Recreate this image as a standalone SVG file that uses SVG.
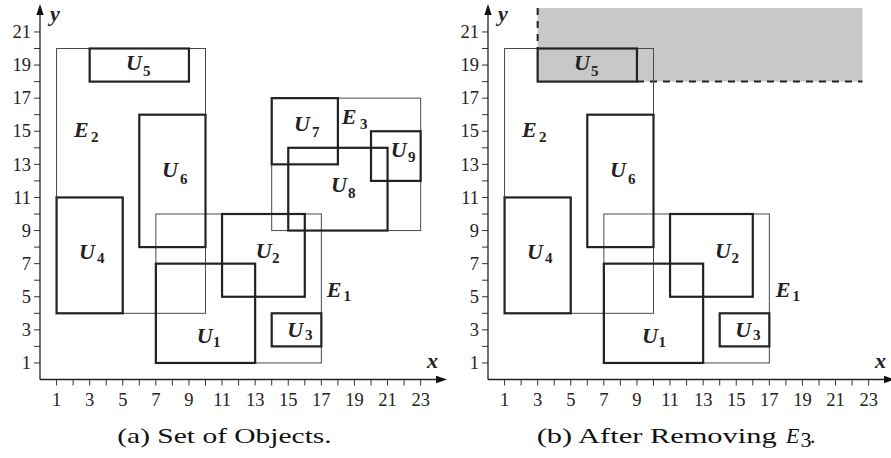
<svg xmlns="http://www.w3.org/2000/svg" width="891" height="458" viewBox="0 0 891 458">
<style>
.thin{fill:none;stroke:#4a4a4a;stroke-width:1}
.thick{fill:none;stroke:#222;stroke-width:2.2}
.axis{stroke:#222;stroke-width:1.3;fill:none}
.tick{stroke:#333;stroke-width:1}
.num{font-family:"Liberation Serif","Times New Roman","DejaVu Serif",serif;font-size:18.5px;fill:#222}
.ny{text-anchor:end}
.nx{text-anchor:middle}
.lab{font-family:"Liberation Serif","Times New Roman","DejaVu Serif",serif;font-size:22px;font-style:italic;font-weight:bold;fill:#222}
.sub{font-size:15px;font-style:normal;font-weight:bold}
.cap{font-family:"Liberation Serif","Times New Roman","DejaVu Serif",serif;font-size:22px;fill:#111}
.dash{stroke:#222;stroke-width:2;stroke-dasharray:7 6;fill:none}
.arr{fill:#111}
</style>
<defs>
<g id="axes">
<path class="tick" d="M34 362.95H40M34 346.4H40M34 329.85H40M34 313.3H40M34 296.75H40M34 280.2H40M34 263.65H40M34 247.1H40M34 230.55H40M34 214H40M34 197.45H40M34 180.9H40M34 164.35H40M34 147.8H40M34 131.25H40M34 114.7H40M34 98.15H40M34 81.6H40M34 65.05H40M34 48.5H40M34 31.95H40"/>
<path class="tick" d="M56.55 379.5V385.5M73.1 379.5V385.5M89.65 379.5V385.5M106.2 379.5V385.5M122.75 379.5V385.5M139.3 379.5V385.5M155.85 379.5V385.5M172.4 379.5V385.5M188.95 379.5V385.5M205.5 379.5V385.5M222.05 379.5V385.5M238.6 379.5V385.5M255.15 379.5V385.5M271.7 379.5V385.5M288.25 379.5V385.5M304.8 379.5V385.5M321.35 379.5V385.5M337.9 379.5V385.5M354.45 379.5V385.5M371 379.5V385.5M387.55 379.5V385.5M404.1 379.5V385.5M420.65 379.5V385.5"/>
<g class="num ny">
<text x="31" y="369">1</text><text x="31" y="336">3</text><text x="31" y="303">5</text><text x="31" y="270">7</text><text x="31" y="237">9</text><text x="31" y="204">11</text><text x="31" y="171">13</text><text x="31" y="137">15</text><text x="31" y="104">17</text><text x="31" y="71">19</text><text x="31" y="38">21</text>
</g>
<g class="num nx">
<text x="56.55" y="405.5">1</text><text x="89.65" y="405.5">3</text><text x="122.75" y="405.5">5</text><text x="155.85" y="405.5">7</text><text x="188.95" y="405.5">9</text><text x="222.05" y="405.5">11</text><text x="255.15" y="405.5">13</text><text x="288.25" y="405.5">15</text><text x="321.35" y="405.5">17</text><text x="354.45" y="405.5">19</text><text x="387.55" y="405.5">21</text><text x="420.65" y="405.5">23</text>
</g>
<path class="axis" d="M40 379.5V13M40 379.5H438"/>
<polygon class="arr" points="40,4 36.3,15 43.7,15"/>
<polygon class="arr" points="447,379.5 436,375.8 436,383.2"/>
<text class="lab" x="50" y="21" font-size="21">y</text>
<text class="lab" x="427" y="368">x</text>
</g>
</defs>

<!-- Panel (a) -->
<g id="panel-a">
<use href="#axes" id="axes-a"/>
<g id="connectors-a"></g>
<g id="E2"><rect class="thin" x="56.55" y="48.5" width="148.95" height="264.8"/><text class="lab" x="74" y="137">E<tspan class="sub" x="91" y="142">2</tspan></text></g>
<g id="E1"><rect class="thin" x="155.85" y="214" width="165.5" height="148.95"/><text class="lab" x="326.7" y="297">E<tspan class="sub" x="343.5" y="301">1</tspan></text></g>
<g id="E3"><rect class="thin" x="271.7" y="98.15" width="148.95" height="132.4"/><text class="lab" x="341.7" y="124">E<tspan class="sub" x="360" y="129">3</tspan></text></g>
<g id="U5"><rect class="thick" x="89.65" y="48.5" width="99.3" height="33.1"/><text class="lab" x="126" y="70">U<tspan class="sub" x="143" y="76">5</tspan></text></g>
<g id="U6"><rect class="thick" x="139.3" y="114.7" width="66.2" height="132.4"/><text class="lab" x="162" y="177">U<tspan class="sub" x="180" y="184">6</tspan></text></g>
<g id="U4"><rect class="thick" x="56.55" y="197.45" width="66.2" height="115.85"/><text class="lab" x="79" y="259">U<tspan class="sub" x="97" y="263">4</tspan></text></g>
<g id="U1"><rect class="thick" x="155.85" y="263.65" width="99.3" height="99.3"/><text class="lab" x="196.7" y="343">U<tspan class="sub" x="213" y="347">1</tspan></text></g>
<g id="U2"><rect class="thick" x="222.05" y="214" width="82.75" height="82.75"/><text class="lab" x="255.7" y="258">U<tspan class="sub" x="272" y="263">2</tspan></text></g>
<g id="U3"><rect class="thick" x="271.7" y="313.3" width="49.65" height="33.1"/><text class="lab" x="287.3" y="337">U<tspan class="sub" x="305" y="340">3</tspan></text></g>
<g id="U7"><rect class="thick" x="271.7" y="98.15" width="66.2" height="66.2"/><text class="lab" x="294" y="131">U<tspan class="sub" x="312" y="137">7</tspan></text></g>
<g id="U8"><rect class="thick" x="288.25" y="147.8" width="99.3" height="82.75"/><text class="lab" x="331" y="192">U<tspan class="sub" x="348" y="198">8</tspan></text></g>
<g id="U9"><rect class="thick" x="371" y="131.25" width="49.65" height="49.65"/><text class="lab" x="390.7" y="157">U<tspan class="sub" x="408" y="162">9</tspan></text></g>
<text class="cap" x="117.3" y="443" textLength="214.4" lengthAdjust="spacingAndGlyphs">(a) Set of Objects.</text>
</g>

<!-- Panel (b) -->
<g id="panel-b">
<g id="region"><rect x="537.65" y="8" width="324.85" height="73.6" fill="#c8c8c8"/>
<path class="dash" d="M537.65 8V48.5M636.95 81.6H862.5"/></g>
<use href="#axes" id="axes-b" transform="translate(448,0)"/>
<g id="connectors-b"></g>
<g id="E2b"><rect class="thin" x="504.55" y="48.5" width="148.95" height="264.8"/><text class="lab" x="522" y="137">E<tspan class="sub" x="539" y="142">2</tspan></text></g>
<g id="E1b"><rect class="thin" x="603.85" y="214" width="165.5" height="148.95"/><text class="lab" x="775.7" y="297">E<tspan class="sub" x="792.5" y="301">1</tspan></text></g>
<g id="U5b"><rect class="thick" x="537.65" y="48.5" width="99.3" height="33.1"/><text class="lab" x="574" y="70">U<tspan class="sub" x="591" y="76">5</tspan></text></g>
<g id="U6b"><rect class="thick" x="587.3" y="114.7" width="66.2" height="132.4"/><text class="lab" x="610" y="177">U<tspan class="sub" x="628" y="184">6</tspan></text></g>
<g id="U4b"><rect class="thick" x="504.55" y="197.45" width="66.2" height="115.85"/><text class="lab" x="527" y="259">U<tspan class="sub" x="545" y="263">4</tspan></text></g>
<g id="U1b"><rect class="thick" x="603.85" y="263.65" width="99.3" height="99.3"/><text class="lab" x="642" y="343">U<tspan class="sub" x="658.5" y="347">1</tspan></text></g>
<g id="U2b"><rect class="thick" x="670.05" y="214" width="82.75" height="82.75"/><text class="lab" x="715" y="258">U<tspan class="sub" x="731.5" y="263">2</tspan></text></g>
<g id="U3b"><rect class="thick" x="719.7" y="313.3" width="49.65" height="33.1"/><text class="lab" x="735.3" y="337">U<tspan class="sub" x="753" y="340">3</tspan></text></g>
<text class="cap" x="536.7" y="443" textLength="240" lengthAdjust="spacingAndGlyphs">(b) After Removing</text>
<text class="cap" x="786" y="443" font-style="italic">E</text>
<text class="cap" x="800.5" y="447" font-size="15">3</text>
<text class="cap" x="810" y="443">.</text>
</g>
</svg>
